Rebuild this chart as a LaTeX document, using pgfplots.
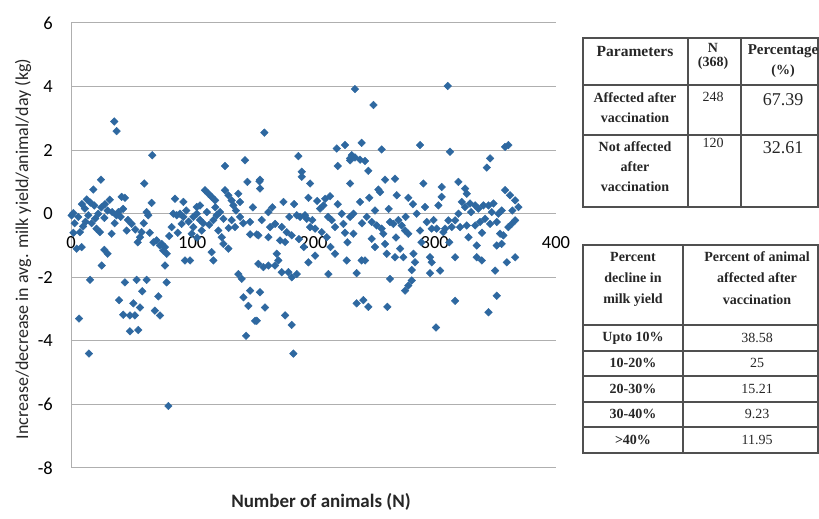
\documentclass[border=0pt]{standalone}
\usepackage{pgfplots}
\pgfplotsset{compat=1.18}
\usepackage{fontspec}
\setmainfont{Carlito}
\newfontfamily\tnr{Liberation Serif}
\definecolor{pt}{RGB}{46,104,160}
\definecolor{gridc}{RGB}{175,175,175}
\definecolor{tline}{RGB}{80,80,80}
\pgfplotstableread{
x y
35.7 2.9
37.6 2.6
67 1.84
24.7 1.07
18.4 0.76
60.4 0.95
32 0.44
41.8 0.53
44.5 0.5
66.5 0.34
1.9 0.02
6 -0.1
11.5 0.16
14.3 -0.05
19.2 0.26
22.5 0
27.5 -0.13
30.2 0.1
37.6 -0.05
39 0.05
47 -0.2
50 -0.32
62.4 0.05
63.7 -0.05
7.4 -0.58
8.8 -1.05
4.7 -1.1
21 -0.47
23.9 -0.58
33.5 -0.63
45.9 -0.53
27.5 -1.14
30.2 -1.26
25.3 -1.63
15.7 -2.08
56.9 -0.74
58.2 -0.58
70.6 -0.84
73.4 -1.0
76.1 -1.16
44.5 -2.16
54.1 -2.08
62.4 -2.08
58.8 -2.44
39.6 -2.72
51.4 -2.82
56.9 -2.95
72 -2.6
69.2 -3.05
73.4 -3.2
43.1 -3.18
48.6 -3.2
52.7 -3.2
48.6 -3.7
55.5 -3.66
6.6 -3.3
14.8 -4.4
0.5 -0.05
3 -0.3
9 0.3
12 -0.25
16 0.35
17 -0.3
20 -0.15
25 0.2
28 0.3
34 0.05
36 -0.3
41 -0.1
43 0.15
53 -0.5
55 -0.9
60 -0.3
65 -0.6
68 -0.9
2 -0.6
10 -0.4
13 0.45
127 1.5
143.5 1.68
145.5 1.0
155.4 1.02
85.8 0.47
92.7 0.37
110.5 0.74
113.3 0.63
116 0.53
118.8 0.42
103.7 0.21
106.4 0.26
127 0.74
129.8 0.58
132.5 0.42
133.9 0.26
138 0.63
139.4 0.37
147.7 -0.26
147.7 -0.65
153.2 -0.65
84.4 0
87.2 -0.05
89.9 0
92.7 -0.1
83 -0.42
91.3 -0.32
100.9 -0.1
103.7 0
106.4 -0.2
100.9 -0.42
107.8 -0.53
99.5 -0.63
117.4 -0.2
120.2 -0.05
122.9 0.05
125.7 -0.16
121.5 -0.53
124.3 -0.74
125.7 -0.95
129.8 -1.1
132.5 -0.2
135.3 -0.42
139.4 -0.1
77.5 -1.05
74.8 -0.95
78.9 -1.26
94 -1.47
98.2 -1.47
116 -1.21
117.4 -1.47
77.5 -1.63
78.9 -2.16
138 -1.9
140.8 -2.05
147.7 -2.42
142.2 -2.63
146.3 -2.9
151.8 -3.37
144.4 -3.84
80.3 -6.05
95 0.1
97 -0.25
109 -0.3
112 0.05
114 -0.35
119 0.2
130 -0.45
136 0.1
142 -0.3
150 0.2
81 -0.7
88 -0.6
104 -0.75
159.5 2.55
187.5 1.81
219.2 2.05
226 2.16
230.2 1.68
231.6 1.84
220 1.5
190.3 1.32
190.3 1.16
197.2 0.95
155.9 1.07
155.9 0.79
230.2 0.95
195.8 0.5
209.6 0.47
213.7 0.55
175.2 0.37
162.8 0.05
186.2 -0.05
189 -0.1
193 -0.05
194.4 -0.16
205.4 0.16
208.2 0.26
215 -0.2
217.8 -0.42
223.3 0
224.7 -0.32
230.2 -0.1
232.9 0
157.3 -0.2
164.2 -0.42
168.3 -0.32
173.8 -0.42
177.9 -0.58
182 -0.68
154.5 -0.68
162.8 -0.74
172.4 -0.84
176.6 -0.89
197.2 -0.42
201.3 -0.47
206.8 -0.58
210.9 -0.74
169.7 -1.26
171 -1.47
168.3 -1.63
154.5 -1.58
158.7 -1.68
162.8 -1.63
173.8 -1.84
179.3 -1.84
182 -2.0
186.2 -1.9
195.8 -1.53
201.3 -1.32
217.8 -1.26
227.4 -1.47
212.3 -1.9
155.9 -2.47
160 -2.95
153.2 -3.37
176.6 -3.2
182 -3.5
183.4 -4.4
166 0.2
180 -0.1
184 0.3
199 -0.2
203 0.4
212 -0.1
220 0.3
226 -0.6
188 -0.8
192 -1.05
214 -1.05
228 -0.9
234.2 3.92
249.4 3.42
239.7 2.23
256.2 2.02
287.9 2.16
230.1 1.74
234.2 1.77
238.4 1.7
242.5 1.66
245.2 1.35
259 1.07
267.2 1.1
253.5 0.76
254.9 0.68
268.6 0.58
278.2 0.5
290.6 0.95
305.7 0.84
305.7 0.53
303 0.26
238.4 0.37
292 0.21
285.1 0
250.7 0.1
243.9 -0.1
248 -0.26
252.1 -0.37
256.2 -0.47
257.6 -0.63
263.1 -0.26
265.9 -0.32
270 -0.2
272.7 -0.37
275.5 -0.53
278.2 -0.63
287.9 -0.53
293.4 -0.26
297.5 -0.47
301.6 -0.47
307.1 -0.58
232.9 -0.63
248 -0.79
250.7 -1.05
259 -0.95
260.4 -1.26
267.2 -1.37
271.4 -1.1
274.1 -1.37
282.4 -1.26
283.7 -1.53
296.1 -1.37
297.5 -1.53
239.7 -1.47
242.5 -1.47
281 -1.77
296.1 -1.87
304.4 -1.79
235.6 -1.87
263.1 -2.05
281 -2.1
278.2 -2.26
275.5 -2.42
235.6 -2.82
241.1 -2.72
245.2 -2.93
260.9 -2.93
301 -3.58
240 -0.3
262 0.15
276 -0.1
282 0.3
289 -0.9
299 -0.2
246 0.5
268 -0.75
310.7 4.02
312.6 1.95
358 2.1
360.7 2.16
345.6 1.74
342.9 1.45
319.5 1.0
325 0.79
326.4 0.63
358 0.74
362.1 0.58
366.3 0.42
369 0.21
322.3 0.37
329.1 0.32
333.3 0.26
336 0.16
340.1 0.26
344.3 0.26
348.4 0.32
325 0.21
319.5 0
316.8 -0.21
314 -0.42
311.3 -0.21
308.5 -0.47
320.9 -0.42
326.4 -0.37
333.3 -0.37
337.4 -0.26
341.5 -0.16
345.6 -0.32
352.5 0
351.1 -0.26
355.2 0.1
363.5 -0.32
366.3 -0.21
360.7 -0.42
353.9 -0.63
356.6 -0.68
351.1 -1.0
355.2 -0.95
327.8 -0.74
334.6 -1.0
316.8 -1.37
334.6 -1.37
338.8 -1.47
349.8 -1.79
359.4 -1.53
366.3 -1.37
316.8 -2.74
351.1 -2.58
344.3 -3.1
312 -0.9
330 0.05
339 -0.6
347 0.05
364 0.1
}\pts
\begin{document}
\begin{tikzpicture}[x=1bp,y=1bp]
\path[use as bounding box] (0,0) rectangle (819,519);
\begin{axis}[
  at={(71bp,51bp)}, anchor=south west,
  scale only axis, width=485bp, height=445bp,
  xmin=0, xmax=400, ymin=-8, ymax=6,
  xtick={0,100,200,300,400}, ytick={-8,-6,-4,-2,0,2,4,6},
  axis lines*=left,
  axis line style={gridc, line width=1bp},
  ymajorgrids, grid style={gridc, line width=1bp},
  major tick length=0pt,
  /pgf/number format/assume math mode=true,
  ticklabel style={font=\fontsize{18.5bp}{22bp}\selectfont, text=black},
  xticklabel style={anchor=center, yshift=225bp},
  yticklabel style={anchor=east, inner sep=0pt, xshift=-18bp},
  clip=false,
]
\addplot[only marks, mark=square*, mark size=2.7bp, color=pt,
  mark options={rotate=45, fill=pt, draw=pt}] table[x=x,y=y] {\pts};
\end{axis}
% axis titles
\node[rotate=90, font=\fontsize{18bp}{20bp}\selectfont, text=black!85] at (23,270)
  {Increase/decrease in avg. milk yield/animal/day (kg)};
\node[font=\fontsize{19bp}{22bp}\selectfont\bfseries, text=black!85] at (321,17) {Number of animals (N)};
% table 1
\begin{scope}[tline, line width=1.6bp]
\draw (583,481) rectangle (818,312);
\draw (583,434) -- (818,434);
\draw (583,384) -- (818,384);
\draw (688,481) -- (688,312);
\draw (741,481) -- (741,312);
\end{scope}
\begin{scope}[font=\tnr\fontsize{14bp}{17bp}\selectfont, text=black!85]
\node[font=\tnr\bfseries\fontsize{15.5bp}{17bp}\selectfont] at (635,467) {Parameters};
\node[font=\tnr\bfseries\fontsize{14bp}{17bp}\selectfont] at (713,471) {N};
\node[font=\tnr\bfseries\fontsize{14bp}{17bp}\selectfont] at (713,456) {(368)};
\node[font=\tnr\bfseries\fontsize{15bp}{17bp}\selectfont] at (783,468) {Percentage};
\node[font=\tnr\bfseries\fontsize{14bp}{17bp}\selectfont] at (783,448) {(\%)};
\node[font=\tnr\bfseries\fontsize{14bp}{17bp}\selectfont] at (635,421) {Affected after};
\node[font=\tnr\bfseries\fontsize{14bp}{17bp}\selectfont] at (635,401) {vaccination};
\node at (713,422) {248};
\node[font=\tnr\fontsize{18bp}{20bp}\selectfont] at (783,419) {67.39};
\node[font=\tnr\bfseries\fontsize{14bp}{17bp}\selectfont] at (635,372) {Not affected};
\node[font=\tnr\bfseries\fontsize{14bp}{17bp}\selectfont] at (635,352) {after};
\node[font=\tnr\bfseries\fontsize{14bp}{17bp}\selectfont] at (635,332) {vaccination};
\node at (713,376) {120};
\node[font=\tnr\fontsize{18bp}{20bp}\selectfont] at (783,371) {32.61};
\end{scope}
% table 2
\begin{scope}[tline, line width=1.6bp]
\draw (583,274) rectangle (818,66);
\draw (583,194) -- (818,194);
\draw (583,168) -- (818,168);
\draw (583,143) -- (818,143);
\draw (583,117) -- (818,117);
\draw (583,92) -- (818,92);
\draw (683,274) -- (683,66);
\end{scope}
\begin{scope}[font=\tnr\fontsize{14bp}{17bp}\selectfont, text=black!85]
\node[font=\tnr\bfseries\fontsize{14bp}{17bp}\selectfont] at (633,262) {Percent};
\node[font=\tnr\bfseries\fontsize{14bp}{17bp}\selectfont] at (633,241) {decline in};
\node[font=\tnr\bfseries\fontsize{14bp}{17bp}\selectfont] at (633,219) {milk yield};
\node[font=\tnr\bfseries\fontsize{14bp}{17bp}\selectfont] at (757,262) {Percent of animal};
\node[font=\tnr\bfseries\fontsize{14bp}{17bp}\selectfont] at (757,241) {affected after};
\node[font=\tnr\bfseries\fontsize{14bp}{17bp}\selectfont] at (757,219) {vaccination};
\node[font=\tnr\bfseries\fontsize{14bp}{17bp}\selectfont] at (633,181) {Upto 10\%};
\node at (757,181) {38.58};
\node[font=\tnr\bfseries\fontsize{14bp}{17bp}\selectfont] at (633,156) {10-20\%};
\node at (757,156) {25};
\node[font=\tnr\bfseries\fontsize{14bp}{17bp}\selectfont] at (633,130) {20-30\%};
\node at (757,130) {15.21};
\node[font=\tnr\bfseries\fontsize{14bp}{17bp}\selectfont] at (633,105) {30-40\%};
\node at (757,105) {9.23};
\node[font=\tnr\bfseries\fontsize{14bp}{17bp}\selectfont] at (633,79) {>40\%};
\node at (757,79) {11.95};
\end{scope}
\end{tikzpicture}
\end{document}
